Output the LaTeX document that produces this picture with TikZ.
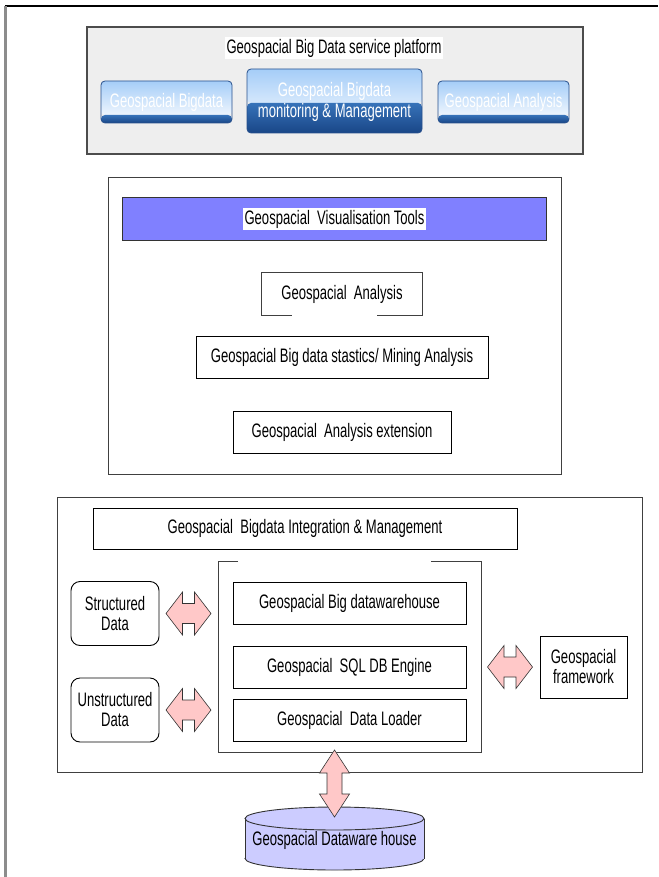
\documentclass[tikz,border=0pt]{standalone}
\usepackage{fontspec}
\setmainfont[FakeStretch=0.67]{Liberation Sans}
\definecolor{platbg}{RGB}{238,238,238}
\definecolor{visbar}{RGB}{128,128,255}
\definecolor{arrowpink}{RGB}{255,200,200}
\definecolor{cylfill}{RGB}{204,204,255}
\definecolor{btnlight}{RGB}{165,205,248}
\definecolor{btnedge}{RGB}{40,80,140}
\definecolor{btndarktop}{RGB}{55,115,185}
\definecolor{btndarkbot}{RGB}{25,70,135}
\tikzset{
  plain/.style={draw=black, line width=0.9pt, fill=white, inner sep=0pt, align=center},
  frame/.style={draw=black!75, line width=1pt},
  rbox/.style={plain, rounded corners=9pt},
  btn/.style={draw=btnedge, line width=0.8pt, rounded corners=4pt, inner sep=0pt, text=white, align=center,
    path picture={
      \shade[top color=btnlight, bottom color=white] (path picture bounding box.north west) rectangle ([yshift=#1]path picture bounding box.south east);
      \shade[top color=btndarktop, bottom color=btndarkbot] ([yshift=#1]path picture bounding box.south west) rectangle (path picture bounding box.south east);
    }},
  arrowbody/.style={draw=black!80, line width=0.6pt, fill=arrowpink},
  hdbl/.pic={\draw[arrowbody] (-22.5,0) -- (-6,-21.5) -- (-6,-10) -- (6,-10) -- (6,-21.5) -- (22.5,0) -- (6,21.5) -- (6,10) -- (-6,10) -- (-6,21.5) -- cycle;},
  vdbl/.pic={\draw[arrowbody] (0,-33.5) -- (15,-10.5) -- (7.5,-10.5) -- (7.5,10.5) -- (15,10.5) -- (0,33.5) -- (-15,10.5) -- (-7.5,10.5) -- (-7.5,-10.5) -- (-15,-10.5) -- cycle;}
}
\begin{document}
\begin{tikzpicture}[x=1pt,y=-1pt,font=\fontsize{19.5}{20}\selectfont]
\useasboundingbox (0,0) rectangle (658,877);
% outer frame
\draw[black, line width=2pt] (5,6) -- (658,6);
\draw[black!45, line width=2.2pt] (5.5,6) -- (5.5,877);

% ---------- platform ----------
\node[draw=black!70, line width=1.5pt, fill=platbg, minimum width=496, minimum height=127, inner sep=0pt] (plat) at (335,90.5) {};
\node[fill=white, inner sep=1.5pt] (plattitle) at (334,48) {Geospacial Big Data service platform};
\node[btn=8pt, minimum width=131, minimum height=42] (b1) at (166.5,102) {};
\node[text=white] (b1t) at (166.5,102) {Geospacial Bigdata};
\node[btn=30pt, minimum width=175, minimum height=64] (b2) at (334.5,101) {};
\node[text=white] (b2t1) at (334.5,91) {Geospacial Bigdata};
\node[text=white] (b2t2) at (334.5,112) {monitoring \& Management};
\node[btn=8pt, minimum width=131, minimum height=42] (b3) at (503.5,102) {};
\node[text=white] (b3t) at (503.5,102) {Geospacial Analysis};

% ---------- visualisation section ----------
\node[frame, minimum width=453, minimum height=296, inner sep=0pt] (vis) at (334.5,326) {};
\node[draw=black!80, line width=1pt, fill=visbar, minimum width=424, minimum height=42, inner sep=0pt] (visbar) at (334.5,219) {};
\node[fill=white, inner sep=1.5pt] (vistext) at (334.5,219) {Geospacial\ \ Visualisation Tools};
\node[inner sep=0pt, minimum width=160, minimum height=42] (ga) at (342,294) {Geospacial\ \ Analysis};
\draw[black!75, line width=0.9pt] ([xshift=30pt]ga.south west) -- (ga.south west) -- (ga.north west) -- (ga.north east) -- (ga.south east) -- ([xshift=-45pt]ga.south east);
\node[plain, minimum width=292, minimum height=42] (stat) at (342,357.5) {Geospacial Big data stastics/ Mining Analysis};
\node[plain, minimum width=218, minimum height=42] (ext) at (342,432.5) {Geospacial\ \ Analysis extension};

% ---------- integration section ----------
\node[frame, minimum width=585, minimum height=275, inner sep=0pt] (integ) at (349.5,634.5) {};
\node[plain, minimum width=424, minimum height=41] (im) at (305,528.5) {Geospacial\ \ Bigdata Integration \& Management};
\draw[black!75, line width=0.9pt] (238,561) -- (218,561) -- (218,752) -- (481,752) -- (481,561) -- (431,561);
\node[rbox, minimum width=88, minimum height=64] (sd) at (115,613.5) {Structured\\Data};
\node[rbox, minimum width=88, minimum height=64] (ud) at (115,710) {Unstructured\\Data};
\node[plain, minimum width=233, minimum height=42] (dw) at (349.5,603) {Geospacial Big datawarehouse};
\node[plain, minimum width=233, minimum height=42] (sql) at (349.5,667.5) {Geospacial\ \ SQL DB Engine};
\node[plain, minimum width=233, minimum height=42] (dl) at (349.5,720.5) {Geospacial\ \ Data Loader};
\node[plain, minimum width=87, minimum height=62] (fw) at (583.5,667) {Geospacial\\framework};
\pic at (188.5,613.5) {hdbl};
\pic at (188.5,710) {hdbl};
\pic at (510,667) {hdbl};

% ---------- data warehouse cylinder ----------
\filldraw[fill=cylfill, draw=black!80, line width=0.9pt] (334.5,858.5) ellipse [x radius=89.5pt, y radius=11.5pt];
\fill[cylfill] (245,818.5) rectangle (424,858.5);
\draw[black!80, line width=0.9pt] (245,818.5) -- (245,858.5) (424,818.5) -- (424,858.5);
\filldraw[fill=cylfill, draw=black!80, line width=0.9pt] (334.5,818.5) ellipse [x radius=89.5pt, y radius=11.5pt];
\node[inner sep=0pt] (dwh) at (334.5,840) {Geospacial Dataware house};
\pic at (334.5,783.5) {vdbl};
\end{tikzpicture}
\end{document}
